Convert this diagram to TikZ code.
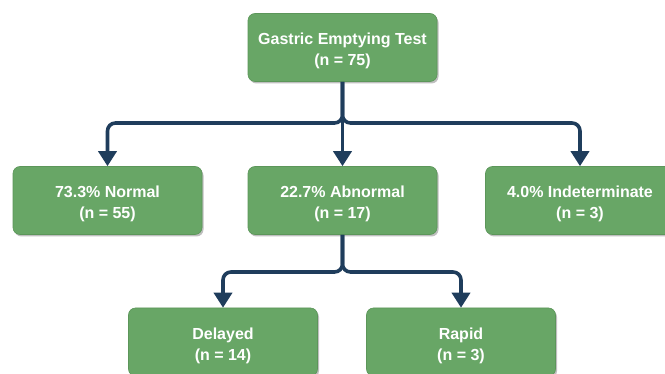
\documentclass[tikz,border=0pt]{standalone}
\usepackage{fontspec}
\setmainfont{Liberation Sans}
\usetikzlibrary{arrows.meta,shadows}
\definecolor{boxgreen}{RGB}{104,166,102}
\definecolor{boxedge}{RGB}{92,150,90}
\definecolor{navy}{RGB}{31,61,92}
\newcommand\toppad{\rule{0pt}{19pt}}
\begin{document}
\begin{tikzpicture}[x=1pt,y=-1pt,
  box/.style={rectangle, rounded corners=7pt, fill=boxgreen, draw=boxedge, line width=0.6pt,
    minimum width=189pt, minimum height=68pt, inner sep=0pt, align=center,
    text=white, font=\bfseries\fontsize{16}{21}\selectfont,
    drop shadow={shadow xshift=1.5pt, shadow yshift=-2pt, opacity=0.25, fill=black}},
  conn/.style={draw=navy, line width=3.6pt, rounded corners=8pt,
    -{Triangle[width=18pt,length=15pt]}}]
\useasboundingbox (0,0) rectangle (665,374);
\clip (0,0) rectangle (665,374);
\fill[white] (0,0) rectangle (665,374);
\node[box] (top) at (342.5,47.5) {\toppad Gastric Emptying Test\\(n = 75)};
\node[box] (normal) at (107.5,200.5) {\toppad 73.3\% Normal\\(n = 55)};
\node[box] (abn) at (342.5,200.5) {\toppad 22.7\% Abnormal\\(n = 17)};
\node[box] (ind) at (580,200.5) {\toppad 4.0\% Indeterminate\\(n = 3)};
\node[box] (del) at (223,342) {\toppad Delayed\\(n = 14)};
\node[box] (rap) at (461,342) {\toppad Rapid\\(n = 3)};
\coordinate (j1) at (342.5,123);
\coordinate (j2) at (342.5,272);
\draw[conn] (top.south) -- (j1) -| (normal.north);
\draw[conn] (top.south) -- (j1) -| (ind.north);
\draw[conn] (top.south) -- (abn.north);
\draw[conn] (abn.south) -- (j2) -| (del.north);
\draw[conn] (abn.south) -- (j2) -| (rap.north);
\end{tikzpicture}
\end{document}
